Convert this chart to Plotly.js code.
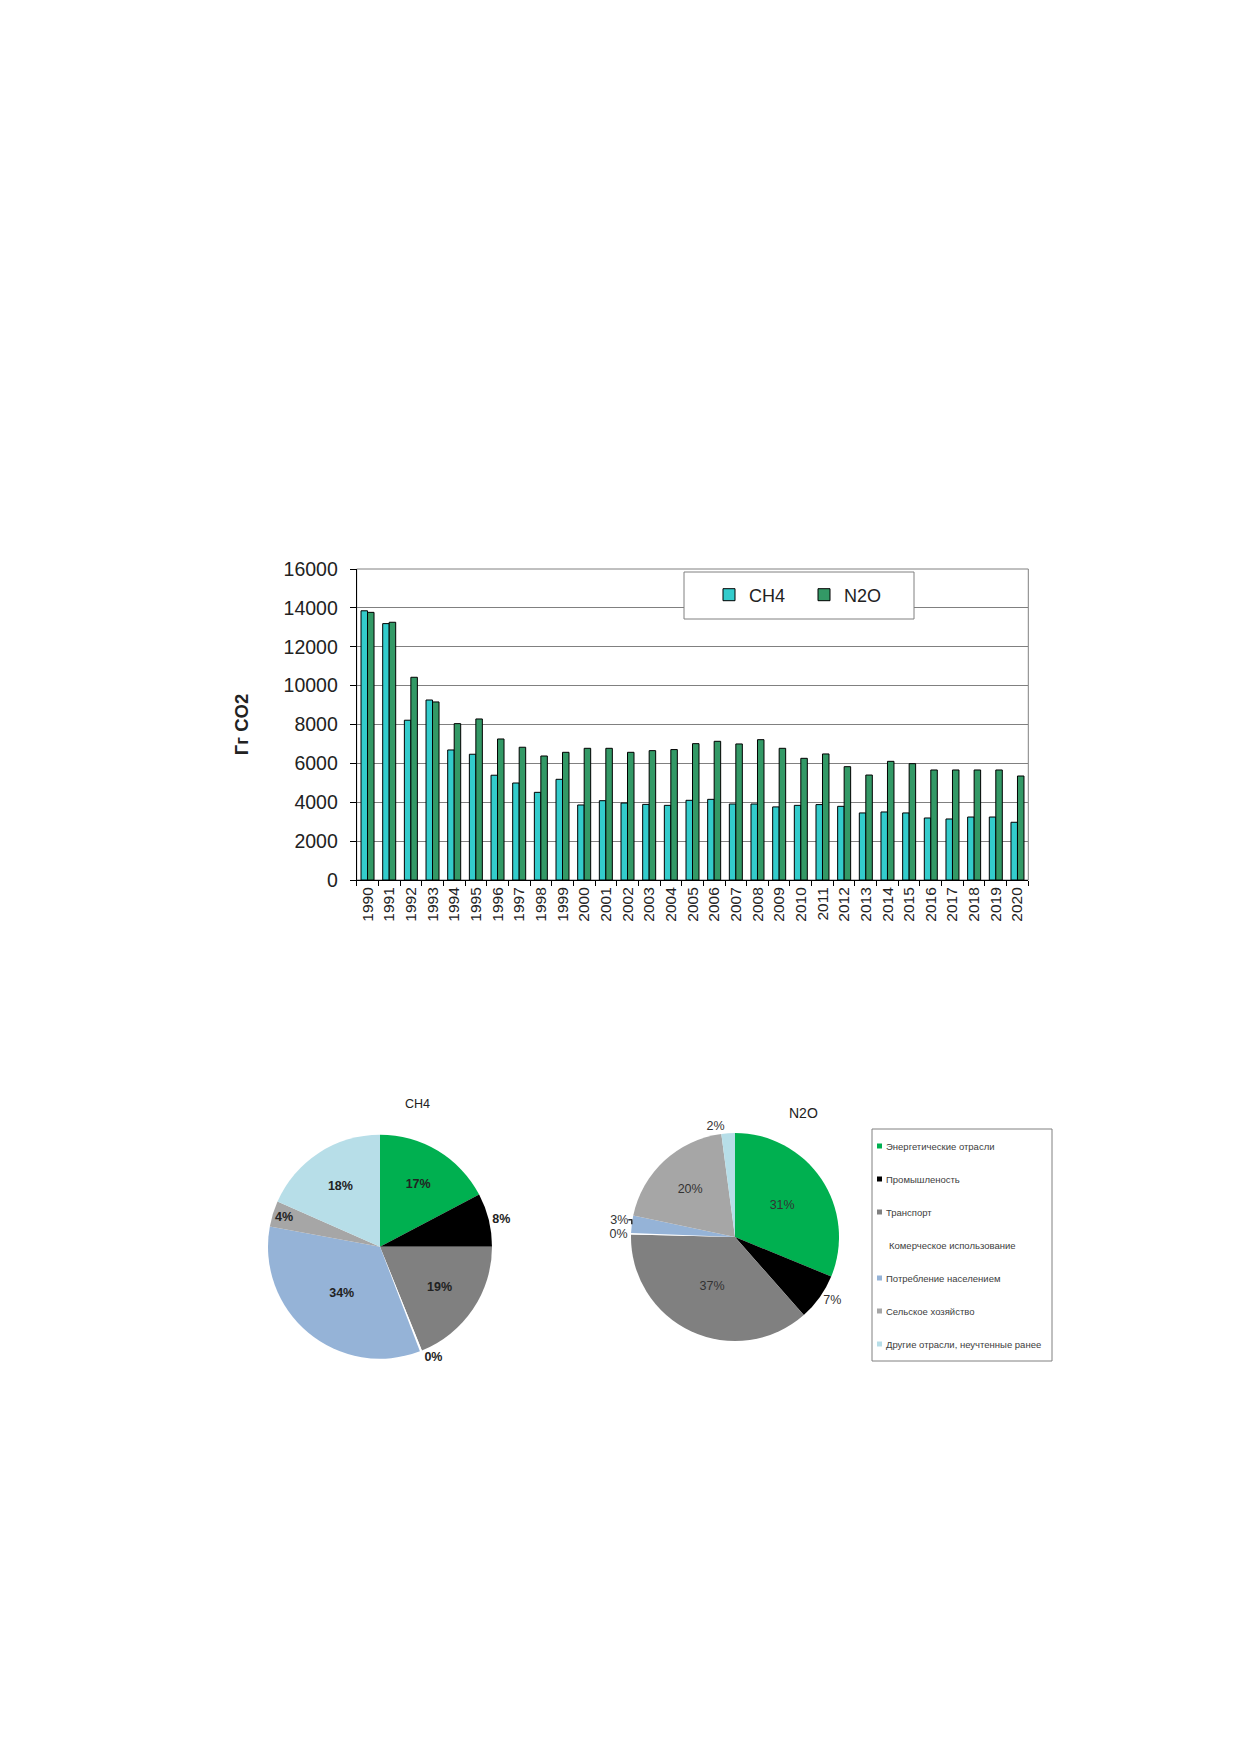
<!DOCTYPE html>
<html>
<head>
<meta charset="utf-8">
<script src="https://cdn.plot.ly/plotly-3.0.1.min.js"></script>
<style>
  html, body { margin: 0; padding: 0; background: #fff; }
  #chart { width: 1239px; height: 1754px; }
</style>
</head>
<body>
<div id="chart"></div>
<script>
// annual emissions, Gg CO2-eq
const years = ['1990', '1991', '1992', '1993', '1994', '1995', '1996', '1997', '1998', '1999',
    '2000', '2001', '2002', '2003', '2004', '2005', '2006', '2007', '2008', '2009',
    '2010', '2011', '2012', '2013', '2014', '2015', '2016', '2017', '2018', '2019', '2020'];
const ch4 = [13850, 13190, 8220, 9260, 6690, 6470, 5390, 4990, 4510, 5180,
    3860, 4080, 3960, 3890, 3840, 4100, 4150, 3910, 3910, 3760,
    3840, 3880, 3790, 3450, 3500, 3450, 3190, 3140, 3240, 3240, 2970];
const n2o = [13770, 13260, 10430, 9160, 8045, 8285, 7255, 6830, 6380, 6570,
    6775, 6775, 6570, 6655, 6710, 7015, 7135, 7000, 7220, 6775,
    6260, 6485, 5830, 5400, 6105, 5985, 5660, 5660, 5660, 5660, 5350];

// shares by sector, %
const sectors = ['Энергетические отрасли', 'Промышленость', 'Транспорт', 'Комерческое использование',
    'Потребление населением', 'Сельское хозяйство', 'Другие отрасли, неучтенные ранее'];
const ch4Share = [17.3, 7.7, 18.9, 0.3, 33.7, 3.7, 18.4];
const n2oShare = [31.2, 7.3, 36.9, 0.2, 2.7, 19.6, 2.1];

const sectorColors = ['#00b050', '#000000', '#808080', '#ffffff', '#95b3d7', '#a6a6a6', '#b7dee8'];

const W = 1239, H = 1754;
const FONT = 'Liberation Sans, Arial, sans-serif';
const px = p => p / W;
const py = p => 1 - p / H;

let data = [
    {
        name: 'CH4',
        type: 'bar',
        x: years,
        y: ch4,
        marker: {color: '#33cccc', line: {color: '#000', width: 1}},
        hoverinfo: 'skip',
    },
    {
        name: 'N2O',
        type: 'bar',
        x: years,
        y: n2o,
        marker: {color: '#339966', line: {color: '#000', width: 1}},
        hoverinfo: 'skip',
    },
    {
        type: 'pie',
        labels: sectors,
        values: ch4Share,
        sort: false,
        direction: 'clockwise',
        rotation: 0,
        showlegend: false,
        domain: {x: [px(268), px(492)], y: [py(1358.7), py(1134.7)]},
        marker: {colors: sectorColors, line: {width: 0}},
        texttemplate: '%{percent:.0%}',
        textposition: ['inside', 'outside', 'inside', 'outside', 'inside', 'inside', 'inside'],
        insidetextorientation: 'horizontal',
        textfont: {family: FONT, size: 12.5, color: '#222', weight: 'bold'},
        hoverinfo: 'skip',
    },
    {
        type: 'pie',
        labels: sectors,
        values: n2oShare,
        sort: false,
        direction: 'clockwise',
        rotation: 0,
        showlegend: false,
        domain: {x: [px(631), px(839)], y: [py(1341), py(1133)]},
        marker: {colors: sectorColors, line: {width: 0}},
        texttemplate: '%{percent:.0%}',
        textposition: ['inside', 'outside', 'inside', 'outside', 'outside', 'inside', 'outside'],
        insidetextorientation: 'horizontal',
        textfont: {family: FONT, size: 12.5, color: '#333'},
        hoverinfo: 'skip',
    },
];

let shapes = [
    // plot frame (top / right are grey)
    {
        type: 'rect', xref: 'x domain', yref: 'y domain', x0: 0, x1: 1, y0: 0, y1: 1,
        line: {color: '#808080', width: 1}, layer: 'below',
    },
    // box behind bar legend
    {
        type: 'rect', xref: 'paper', yref: 'paper',
        x0: px(684), x1: px(914), y0: py(619), y1: py(572),
        fillcolor: '#fff', line: {color: '#808080', width: 1}, layer: 'above',
    },
    // box of sector legend
    {
        type: 'rect', xref: 'paper', yref: 'paper',
        x0: px(872), x1: px(1052), y0: py(1361), y1: py(1129),
        fillcolor: 'rgba(0,0,0,0)', line: {color: '#808080', width: 1},
    },
];

let annotations = [
    {
        text: 'CH4', xref: 'paper', yref: 'paper', x: px(403), y: py(1104),
        showarrow: false, font: {family: FONT, size: 12.5, color: '#222'},
    },
    {
        text: 'N2O', xref: 'paper', yref: 'paper', x: px(803), y: py(1113),
        showarrow: false, font: {family: FONT, size: 14, color: '#222'},
    },
];

// sector legend
sectors.forEach(function (name, i) {
    const yc = 1146 + i * 33;
    shapes.push({
        type: 'rect', xref: 'paper', yref: 'paper',
        x0: px(877), x1: px(882), y0: py(yc + 2.5), y1: py(yc - 2.5),
        fillcolor: sectorColors[i], line: {width: 0},
    });
    annotations.push({
        text: name, xref: 'paper', yref: 'paper', x: px(i === 3 ? 887 : 884), y: py(yc),
        xanchor: 'left', yanchor: 'middle', showarrow: false,
        font: {family: FONT, size: 9.5, color: '#404040'},
    });
});

let layout = {
    width: W,
    height: H,
    margin: {l: 0, r: 0, t: 0, b: 0},
    paper_bgcolor: '#fff',
    plot_bgcolor: 'rgba(0,0,0,0)',
    font: {family: FONT, color: '#222'},
    barmode: 'group',
    bargap: 0.4,
    bargroupgap: 0,
    showlegend: true,
    legend: {
        orientation: 'h',
        x: px(709),
        xanchor: 'left',
        y: py(595),
        yanchor: 'middle',
        bgcolor: 'rgba(0,0,0,0)',
        borderwidth: 0,
        font: {family: FONT, size: 18, color: '#222'},
        entrywidth: 50,
    },
    xaxis: {
        domain: [px(356.7), px(1028.3)],
        type: 'category',
        tickangle: -90,
        tickfont: {family: FONT, size: 15.5, color: '#222'},
        ticks: 'outside',
        tickson: 'boundaries',
        ticklen: 5,
        tickcolor: '#000',
        showline: true,
        linecolor: '#000',
        linewidth: 1,
        showgrid: false,
        fixedrange: true,
    },
    yaxis: {
        domain: [py(880), py(569)],
        range: [0, 16000],
        dtick: 2000,
        tickformat: 'd',
        tickfont: {family: FONT, size: 19.5, color: '#222'},
        ticks: 'outside',
        ticklen: 6,
        tickcolor: '#000',
        ticklabelstandoff: 8,
        showline: true,
        linecolor: '#000',
        linewidth: 1,
        gridcolor: '#808080',
        gridwidth: 1,
        zeroline: false,
        title: {
            text: 'Гг CO2',
            font: {family: FONT, size: 18.5, color: '#222', weight: 'bold'},
            standoff: 30,
        },
        fixedrange: true,
    },
    uniformtext: {minsize: 12.5, mode: 'show'},
    shapes: shapes,
    annotations: annotations,
};

Plotly.newPlot('chart', data, layout, {staticPlot: true});
</script>
</body>
</html>
